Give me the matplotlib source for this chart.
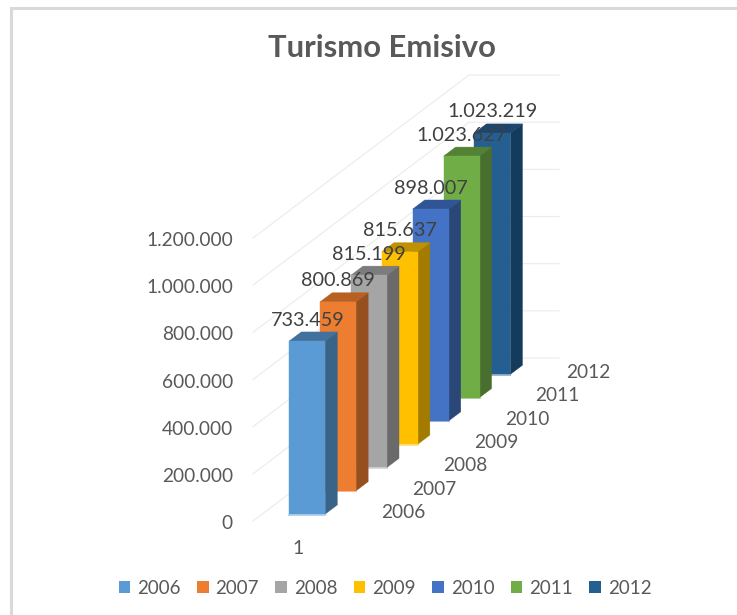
import matplotlib
matplotlib.use('Agg')
import matplotlib.pyplot as plt
from matplotlib.patches import Polygon, Patch

years = ['2006', '2007', '2008', '2009', '2010', '2011', '2012']
values = [733459, 800869, 815199, 815637, 898007, 1023627, 1023219]
value_labels = ['733.459', '800.869', '815.199', '815.637', '898.007', '1.023.627', '1.023.219']
axis_ticks = [0, 200000, 400000, 600000, 800000, 1000000, 1200000]
axis_labels = ['0', '200.000', '400.000', '600.000', '800.000', '1.000.000', '1.200.000']
category = '1'
title = 'Turismo Emisivo'

front = ['#5B9BD5', '#ED7D31', '#A5A5A5', '#FFC000', '#4472C4', '#70AD47', '#255E91']
side = ['#38648A', '#964F1E', '#6A6A6A', '#A37B00', '#2A4778', '#486F2D', '#143B5C']
top = ['#41719C', '#B85F22', '#7C7C7C', '#BF9000', '#2F5597', '#548235', '#1C466D']

grey = '#595959'
plt.rcParams['font.family'] = ['Lato', 'DejaVu Sans']

# oblique projection of the chart box, in pixels
ox, oy = 253, 521
px_per_unit = 283 / 1200000
depth_dx, depth_dy = 216 / 7, -163 / 7
wall_width = 90
bar_x0, bar_x1 = 27, 63
bar_d0, bar_d1 = 0.3, 0.69
series_label_x = 135


def proj(x, d, v):
    # x along the category axis, d along the series axis, v the value
    return ox + x + d * depth_dx, oy + d * depth_dy - v * px_per_unit


fig = plt.figure(figsize=(7.37, 6.15), dpi=100)
ax = fig.add_axes([0, 0, 1, 1])
ax.set_xlim(0, 737)
ax.set_ylim(615, 0)
ax.axis('off')

# frame, only the top and left are in the picture
ax.plot([11.5, 11.5, 737], [615, 7.5, 7.5], color='#D9D9D9', lw=2.2, solid_joinstyle='miter')

ax.text(382, 48, title, ha='center', va='center', fontsize=22.3, fontweight='bold', color=grey)

# walls
n = len(years)
for t, lab in zip(axis_ticks, axis_labels):
    x0, y0 = proj(0, 0, t)
    x1, y1 = proj(0, n, t)
    x2, y2 = proj(wall_width, n, t)
    ax.plot([x0, x1, x2], [y0, y1, y2], color='#EBEBEB', lw=0.8, zorder=1)
    ax.text(x0 - 20, y0 + 2.5, lab, ha='right', va='center', fontsize=13.8, color=grey)

# bars from the back to the front
for i in range(n - 1, -1, -1):
    v = values[i]
    d0, d1 = i + bar_d0, i + bar_d1
    a = proj(bar_x0, d0, 0)
    b = proj(bar_x1, d0, 0)
    c = proj(bar_x1, d0, v)
    e = proj(bar_x0, d0, v)
    f = proj(bar_x1, d1, 0)
    g = proj(bar_x1, d1, v)
    h = proj(bar_x0, d1, v)
    z = 10 + (n - i)
    ax.add_patch(Polygon([b, f, g, c], closed=True, fc=side[i], ec=side[i], lw=0.3, zorder=z))
    ax.add_patch(Polygon([e, c, g, h], closed=True, fc=top[i], ec=top[i], lw=0.3, zorder=z))
    ax.add_patch(Polygon([a, b, c, e], closed=True, fc=front[i], ec=front[i], lw=0.3, zorder=z))
    ax.plot([a[0], b[0]], [a[1] + 0.5, b[1] + 0.5], color=front[i], alpha=0.45, lw=1.4, zorder=z)

# data labels sit above the front face
for i, lab in enumerate(value_labels):
    x, y = proj((bar_x0 + bar_x1) / 2, i + bar_d0, values[i])
    ax.text(x, y - 21, lab, ha='center', va='center', fontsize=14.3, color='#404040', zorder=30)

# series labels along the floor
for i, lab in enumerate(years):
    x, y = proj(series_label_x, i + 0.5, 0)
    ax.text(x, y + 3, lab, ha='center', va='center', fontsize=13.8, color=grey)

x, y = proj((bar_x0 + bar_x1) / 2, 0, 0)
ax.text(x, y + 28, category, ha='center', va='center', fontsize=14, color=grey)

handles = [Patch(fc=c, ec='none', label=y) for c, y in zip(front, years)]
ax.legend(handles=handles, loc='center', bbox_to_anchor=(385, 588), bbox_transform=ax.transData,
          ncol=7, frameon=False, fontsize=13.5, labelcolor=grey, handlelength=0.62, handleheight=0.62,
          handletextpad=0.37, columnspacing=0.87, borderpad=0, borderaxespad=0)

fig.savefig('out.png', dpi=100, facecolor='white')
